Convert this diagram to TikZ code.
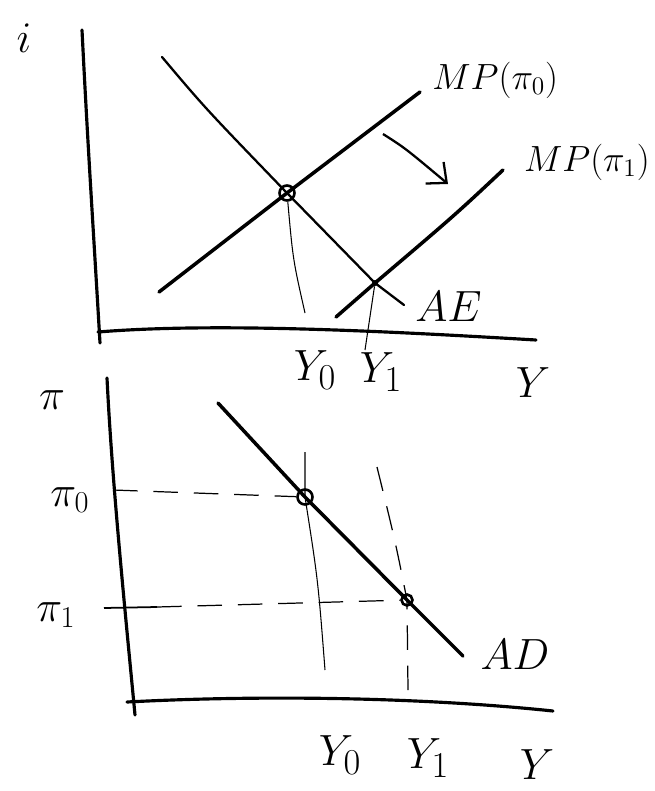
\documentclass[tikz,border=0pt]{standalone}
\usepackage{tikz}
\usepackage{amsmath}
\usetikzlibrary{arrows.meta, positioning}

\begin{document}
\begin{tikzpicture}[
  x=0.02cm, y=-0.02cm,
  axis/.style={line width=1.8pt, line cap=round},
  curve/.style={line width=2pt, line cap=round},
  thincurve/.style={line width=1.3pt, line cap=round},
  guide/.style={line width=0.6pt},
  guidedash/.style={line width=0.7pt, dash pattern=on 14pt off 9pt},
  lab/.style={font=\fontsize{30}{34}\selectfont, inner sep=0pt},
  midlab/.style={font=\fontsize{25}{30}\selectfont, inner sep=0pt},
  mplab/.style={font=\fontsize{22}{26}\selectfont, inner sep=0pt},
  eq/.style={circle, draw, line width=1.5pt, minimum size=0.3cm, inner sep=0pt},
  dot/.style={circle, fill, minimum size=0.12cm, inner sep=0pt},
  shiftarr/.style={-{Straight Barb[length=9pt, width=16pt]}, line width=1.3pt}
]
\useasboundingbox (0,0) rectangle (654,791);

% upper panel: interest rate
\coordinate (iTop) at (82,30);
\coordinate (iOrig) at (100,343);
\coordinate (yLeft) at (98,332);
\coordinate (yRight) at (536,340);
\coordinate (ae0) at (162,57);
\coordinate (ae1) at (404,305);
\coordinate (mp0a) at (159,292);
\coordinate (mp0b) at (420,92);
\coordinate (mp1a) at (336,317);
\coordinate (mp1b) at (503,170);
\coordinate (sh0) at (383,134);
\coordinate (sh1) at (448,184);
\coordinate (y0foot) at (305,313);
\coordinate (y1foot) at (365,350);

\node[eq] (e0) at (287,193) {};
\node[dot] (e1) at (375,283) {};

\draw[axis] (iTop) .. controls (88,150) and (94,240) .. (iOrig);
\draw[axis] (yLeft) .. controls (220,322) and (400,332) .. (yRight);
\draw[thincurve] (ae0) .. controls (205,108) .. (e0.center) -- (e1.center) -- (ae1);
\draw[curve] (mp0a) -- (e0.center) -- (mp0b);
\draw[curve] (mp1a) -- (e1.center) .. controls (455,215) .. (mp1b);
\draw[shiftarr] (sh0) .. controls (405,148) .. (sh1);
\draw[guide] (e0) .. controls (293,260) .. (y0foot);
\draw[guide] (e1) -- (y1foot);

\node[lab] (ilab) at (24,38) {$i$};
\node[mplab, anchor=west] (mp0lab) at (432,80) {$MP(\pi_0)$};
\node[mplab, anchor=east] (mp1lab) at (650,162) {$MP(\pi_1)$};
\node[midlab, anchor=west] (aelab) at (415,307) {$AE$};
\node[lab] (y0lab) at (315,370) {$Y_0$};
\node[lab] (y1lab) at (381,372) {$Y_1$};
\node[lab] (ylab) at (533,383) {$Y$};

% lower panel: inflation
\coordinate (pTop) at (107,378);
\coordinate (pOrig) at (135,715);
\coordinate (qLeft) at (127,702);
\coordinate (qRight) at (553,711);
\coordinate (ad0) at (218,403);
\coordinate (ad1) at (463,656);
\coordinate (pi0tick) at (113,490);
\coordinate (pi1a) at (104,608);
\coordinate (pi1b) at (157,607);
\coordinate (v0top) at (305,452);
\coordinate (v0foot) at (325,670);
\coordinate (v1top) at (377,467);
\coordinate (v1foot) at (408,690);

\node[eq] (f0) at (305,497) {};
\node[eq, minimum size=0.22cm] (f1) at (407,600) {};

\draw[axis] (pTop) .. controls (112,480) and (124,600) .. (pOrig);
\draw[axis] (qLeft) .. controls (260,695) and (420,697) .. (qRight);
\draw[curve] (ad0) -- (f0.center) -- (f1.center) -- (ad1);
\draw[guidedash] (pi0tick) -- (f0);
\draw[guide, line width=1pt] (pi1a) -- (pi1b);
\draw[guidedash] (pi1b) -- (f1);
\draw[guide] (v0top) -- (f0.center) .. controls (318,580) .. (v0foot);
\draw[guidedash] (v1top) .. controls (395,540) .. (f1.center) -- (v1foot);

\node[lab] (pilab) at (52,400) {$\pi$};
\node[midlab] (pi0lab) at (70,500) {$\pi_0$};
\node[midlab] (pi1lab) at (56,615) {$\pi_1$};
\node[midlab] (adlab) at (515,655) {$AD$};
\node[lab] (y0lab2) at (340,755) {$Y_0$};
\node[lab] (y1lab2) at (428,758) {$Y_1$};
\node[lab] (ylab2) at (537,765) {$Y$};
\end{tikzpicture}
\end{document}
